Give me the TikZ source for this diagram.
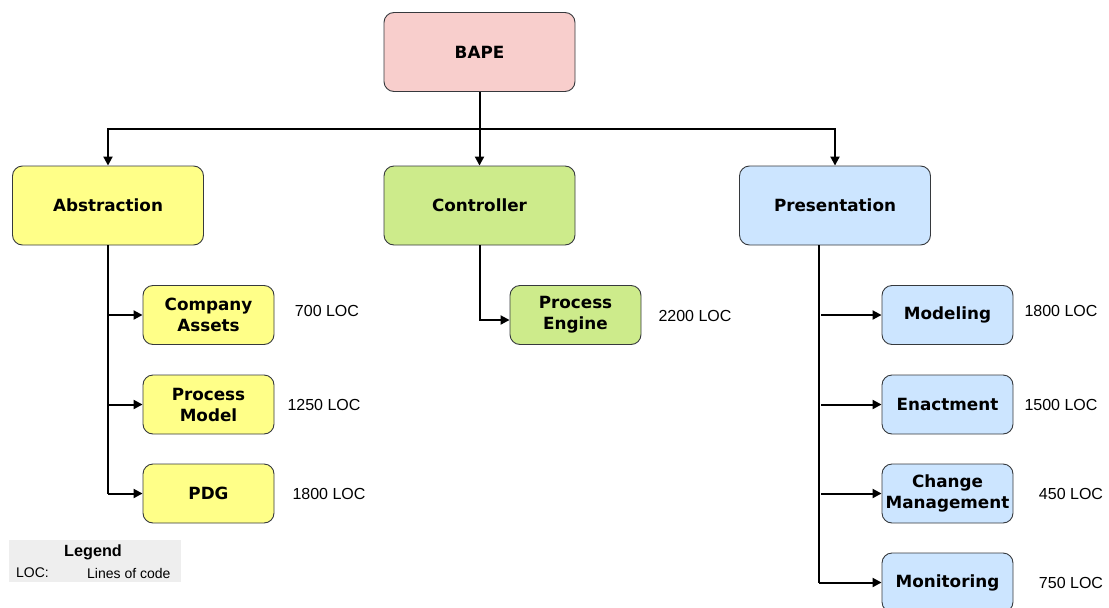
\documentclass[tikz,border=0pt]{standalone}
\usepackage{fontspec}
\setmainfont{Liberation Sans}
\newfontfamily\boxfont{DejaVu Sans}
\usetikzlibrary{arrows.meta}
\definecolor{pinkf}{HTML}{F8CECC}
\definecolor{yelf}{HTML}{FFFF88}
\definecolor{grnf}{HTML}{CDEB8B}
\definecolor{bluf}{HTML}{CCE5FF}
\definecolor{strk}{HTML}{36393D}
\definecolor{legf}{HTML}{EEEEEE}
\tikzset{
  box/.style={draw=strk, line width=0.9pt, rounded corners=10pt, align=center,
    font=\boxfont\bfseries\fontsize{16.8}{21}\selectfont, inner sep=0pt},
  big/.style={box, minimum width=191pt, minimum height=79pt},
  small/.style={box, minimum width=131pt, minimum height=59pt},
  loc/.style={font=\fontsize{16}{19}\selectfont, inner sep=0pt},
  conn/.style={line width=2pt, -{Triangle[length=9pt,width=9pt]}},
  plain/.style={line width=2pt}
}
\begin{document}
\begin{tikzpicture}[x=1pt,y=-1pt]
\useasboundingbox (0,0) rectangle (1109,608);
% top
\node[big, fill=pinkf] (bape) at (479.5,52) {BAPE};
\node[big, fill=yelf] (abs) at (108,205.5) {Abstraction};
\node[big, fill=grnf] (ctl) at (479.5,205.5) {Controller};
\node[big, fill=bluf] (pres) at (835,205.5) {Presentation};
% abstraction children
\node[small, fill=yelf] (ca) at (208.5,315) {Company\\Assets};
\node[small, fill=yelf] (pm) at (208.5,404.5) {Process\\Model};
\node[small, fill=yelf] (pdg) at (208.5,493.5) {PDG};
% controller child
\node[small, fill=grnf] (pe) at (575.5,315) {Process\\Engine};
% presentation children
\node[small, fill=bluf] (mod) at (947.5,315) {Modeling};
\node[small, fill=bluf] (ena) at (947.5,404.5) {Enactment};
\node[small, fill=bluf] (chg) at (947.5,493.5) {Change\\Management};
\node[small, fill=bluf] (mon) at (947.5,582.5) {Monitoring};
% LOC labels
\node[loc] (l1) at (327,311) {700 LOC};
\node[loc] (l2) at (324,405) {1250 LOC};
\node[loc] (l3) at (329,494) {1800 LOC};
\node[loc] (l4) at (695,316) {2200 LOC};
\node[loc] (l5) at (1061,311) {1800 LOC};
\node[loc] (l6) at (1061,405) {1500 LOC};
\node[loc] (l7) at (1071,494) {450 LOC};
\node[loc] (l8) at (1071,583) {750 LOC};
% legend
\fill[legf] (9,540) rectangle (181,582);
\node[font=\bfseries\fontsize{16.2}{19}\selectfont, inner sep=0pt] (legt) at (93,552) {Legend};
\node[font=\fontsize{14}{17}\selectfont, inner sep=0pt, anchor=west] (legk) at (16,573) {LOC:};
\node[font=\fontsize{14}{17}\selectfont, inner sep=0pt, anchor=west] (legv) at (87,573) {Lines of code};
% connectors
\coordinate (hb) at (479.5,129);
\draw[conn] (bape.south) -- (ctl.north);
\draw[conn] (hb) -| (abs.north);
\draw[conn] (hb) -| (pres.north);
\draw[plain] (abs.south) -- (108,493.5);
\draw[conn] (108,315) -- (ca.west);
\draw[conn] (108,404.5) -- (pm.west);
\draw[conn] (108,493.5) -- (pdg.west);
\draw[conn] (ctl.south) |- ([yshift=-5pt]pe.west);
\draw[plain] (819,245) -- (819,582.5);
\draw[conn] (821,315) -- (mod.west);
\draw[conn] (821,404.5) -- (ena.west);
\draw[conn] (821,493.5) -- (chg.west);
\draw[conn] (819,582.5) -- (mon.west);
\end{tikzpicture}
\end{document}
